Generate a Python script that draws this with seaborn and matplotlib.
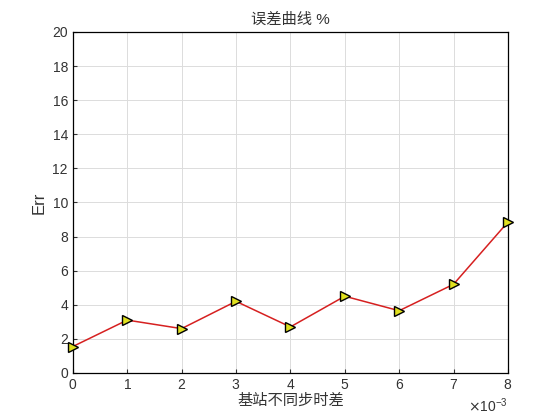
import matplotlib
matplotlib.use("Agg")
import matplotlib.pyplot as plt
import matplotlib.ticker as mticker
import seaborn as sns
import pandas as pd

# data
offset_s = [0.000, 0.001, 0.002, 0.003, 0.004, 0.005, 0.006, 0.007, 0.008]
err_pct = [1.55, 3.1, 2.6, 4.2, 2.7, 4.5, 3.65, 5.2, 8.85]

sns.set_style("whitegrid")
plt.rcParams['font.family'] = ['Liberation Sans', 'Noto Sans CJK SC', 'DejaVu Sans']
plt.rcParams['axes.unicode_minus'] = False

df = pd.DataFrame({"x": offset_s, "err": err_pct})

fig, ax = plt.subplots(figsize=(5.6, 4.2), dpi=100)
sns.lineplot(data=df, x="x", y="err", ax=ax, color="#d62020", linewidth=1.1,
             marker=">", markersize=7.5, markerfacecolor="#e0e020",
             markeredgecolor="black", markeredgewidth=1.0, clip_on=False, zorder=5)

ax.set_xlim(0, 0.008)
ax.set_ylim(0, 20)
ax.set_yticks(range(0, 21, 2))
ax.xaxis.set_major_locator(mticker.MultipleLocator(0.001))
fmt = mticker.ScalarFormatter(useMathText=True)
fmt.set_powerlimits((-2, 2))
ax.xaxis.set_major_formatter(fmt)

ax.set_title("误差曲线 %", fontsize=11, color="#333333")
ax.set_xlabel("基站不同步时差", fontsize=11, color="#333333", labelpad=1)
ax.set_ylabel("Err", fontsize=12, color="#333333")
ax.tick_params(axis="both", direction="in", length=3, labelsize=10,
               colors="#333333", bottom=True, left=True, top=False, right=False)
for tl in ax.get_xticklabels() + ax.get_yticklabels():
    tl.set_color("#333333")

ax.grid(True, color="#dcdcdc", linewidth=0.7)
for sp in ax.spines.values():
    sp.set_color("black")
    sp.set_linewidth(0.9)

plt.subplots_adjust(left=0.13, right=0.907, top=0.924, bottom=0.112)
fig.savefig("out.png", dpi=100)
